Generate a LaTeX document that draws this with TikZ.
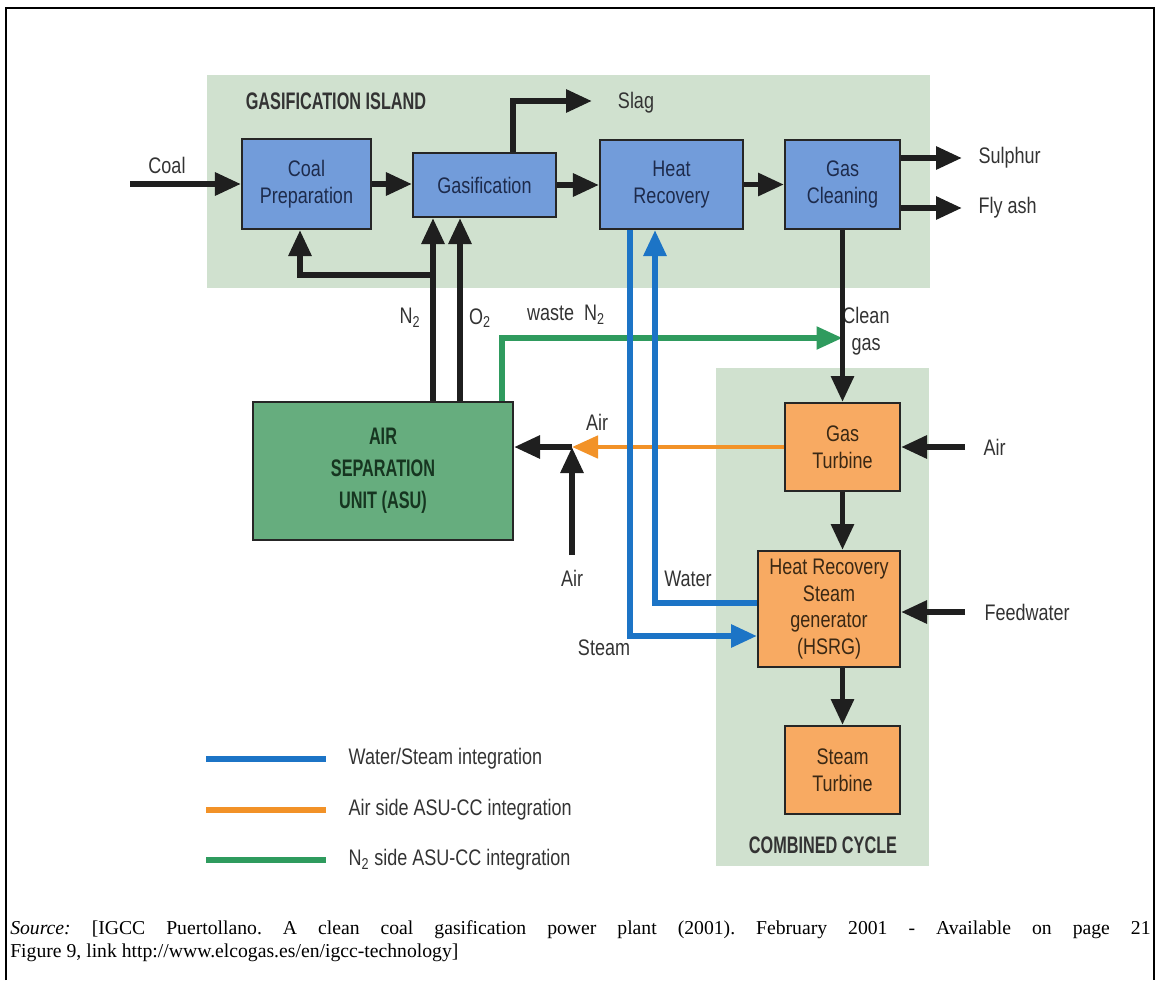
\documentclass[tikz,border=0pt]{standalone}
\usepackage{fontspec}
\setmainfont{Liberation Serif}
\newfontfamily\dfont[FakeStretch=0.8]{Liberation Sans}
\newfontfamily\tfont[FakeStretch=0.68]{Liberation Sans}
\usetikzlibrary{arrows.meta,positioning}
\definecolor{islandbg}{HTML}{D0E1CF}
\definecolor{boxblue}{HTML}{729CDA}
\definecolor{asugreen}{HTML}{66AD7E}
\definecolor{boxorange}{HTML}{F8AA62}
\definecolor{lineblue}{HTML}{1C74C6}
\definecolor{lineorange}{HTML}{F29228}
\definecolor{linegreen}{HTML}{2F9B5E}
\definecolor{txtgray}{HTML}{333333}
\definecolor{txtnavy}{HTML}{1D2B4C}
\definecolor{txtgreen}{HTML}{163520}
\definecolor{txtbrown}{HTML}{3A2814}
\tikzset{
  ar/.style={-{Triangle[length=6.5mm,width=5.5mm]},line width=4.2pt,black!88},
  blu/.style={ar,lineblue},
  orn/.style={ar,line width=3.4pt,lineorange},
  grn/.style={ar,line width=3.8pt,linegreen},
  box/.style={draw=black!85,line width=1.4pt,align=center,inner sep=2pt,font=\dfont\fontsize{16}{19}\selectfont},
  bluebox/.style={box,fill=boxblue,text=txtnavy},
  orbox/.style={box,fill=boxorange,text=txtbrown},
  lbl/.style={font=\dfont\fontsize{16}{19}\selectfont,text=txtgray,inner sep=1pt,align=center},
  ttl/.style={font=\tfont\bfseries\fontsize{17}{20}\selectfont,text=black!80}
}
\begin{document}
\begin{tikzpicture}[x=0.025cm,y=-0.025cm]
\useasboundingbox (0,0) rectangle (1157,980);
\draw[line width=1.4pt] (6,980) -- (6,8) -- (1154,8) -- (1154,980);
\fill[islandbg] (207,75) rectangle (930,288);
\fill[islandbg] (716,368) rectangle (929,866);
\node[ttl] (gisl) at (336,101) {GASIFICATION ISLAND};
\node[ttl] (ccyc) at (823,845) {COMBINED CYCLE};

\node[bluebox,minimum width=3.225cm,minimum height=2.25cm] (prep) at (306.5,184) {Coal\\Preparation};
\node[bluebox,minimum width=3.575cm,minimum height=1.6cm] (gasif) at (484.5,185) {Gasification};
\node[bluebox,minimum width=3.575cm,minimum height=2.225cm] (heatrec) at (671.5,184.5) {Heat\\Recovery};
\node[bluebox,minimum width=2.875cm,minimum height=2.225cm] (gascl) at (842.5,184.5) {Gas\\Cleaning};
\node[box,fill=asugreen,text=txtgreen,font=\tfont\bfseries\fontsize{17}{22.7}\selectfont,minimum width=6.5cm,minimum height=3.45cm] (asu) at (383,471) {AIR\\SEPARATION\\UNIT (ASU)};
\node[orbox,minimum width=2.875cm,minimum height=2.2cm] (gt) at (842.5,447) {Gas\\Turbine};
\node[orbox,minimum width=3.55cm,minimum height=2.9cm] (hrsg) at (829,609) {Heat Recovery\\Steam\\generator\\(HSRG)};
\node[orbox,minimum width=2.875cm,minimum height=2.2cm] (st) at (842.5,770) {Steam\\Turbine};

\node[lbl] (coal) at (167,165) {Coal};
\node[lbl] (slag) at (636,103) {Slag};
\node[lbl,anchor=west] (sulphur) at (977,158) {Sulphur};
\node[lbl,anchor=west] (flyash) at (977,208) {Fly ash};
\node[lbl] (n2) at (410,318) {N\textsubscript{2}};
\node[lbl] (o2) at (480,318) {O\textsubscript{2}};
\node[lbl] (wasten2) at (566,315) {waste\ \ N\textsubscript{2}};
\node[lbl] (cleangas) at (866,331) {Clean\\gas};
\node[lbl] (airtop) at (597,422) {Air};
\node[lbl] (airbot) at (572,578) {Air};
\node[lbl,anchor=west] (airgt) at (982,447) {Air};
\node[lbl,anchor=west] (feedw) at (983,612) {Feedwater};
\node[lbl] (water) at (688,579) {Water};
\node[lbl] (steam) at (604,648) {Steam};

\coordinate (coalin) at (130,184);
\coordinate (slagend) at (592,101);
\coordinate (junc) at (572,447);
\coordinate (airin) at (572,555);
\coordinate (gtair) at (965,447);
\coordinate (fwin) at (965,612);
\coordinate (n2split) at (433,275);

\draw[ar] (coalin) -- (prep);
\draw[ar] (prep.east) -- (prep.east -| gasif.west);
\draw[ar] (gasif.east) -- (gasif.east -| heatrec.west);
\draw[ar] (heatrec.east) -- (heatrec.east -| gascl.west);
\draw[ar] (gasif.north -| 513,0) |- (slagend);
\draw[ar] (gascl.east |- sulphur.west) -- ([xshift=-0.375cm]sulphur.west);
\draw[ar] (gascl.east |- flyash.west) -- ([xshift=-0.375cm]flyash.west);
\draw[ar] (asu.north -| n2split) -- (gasif.south -| n2split);
\draw[ar] (n2split) -| (prep.south -| 300,0);
\draw[ar] (asu.north -| 460,0) -- (gasif.south -| 460,0);
\draw[grn] (asu.north -| 502,0) |- (gascl.south |- 0,338);
\draw[ar] (gascl.south) -- (gt.north);
\draw[orn] (gt.west |- junc) -- (junc);
\draw[ar] (junc) -- (asu.east |- junc);
\draw[ar] (airin) -- (junc);
\draw[ar] (gtair) -- (gt.east |- gtair);
\draw[ar] (gt.south) -- (gt.south |- hrsg.north);
\draw[ar] (st.north |- hrsg.south) -- (st.north);
\draw[ar] (fwin) -- (hrsg.east |- fwin);
\draw[blu] (heatrec.south -| 630,0) |- (hrsg.west |- 0,636);
\draw[blu] (hrsg.west |- 0,603) -| (heatrec.south -| 655,0);

\node[lbl,anchor=west] (lgws) at (347,759) {Water/Steam integration};
\node[lbl,anchor=west] (lgair) at (347,810) {Air side ASU-CC integration};
\node[lbl,anchor=west] (lgn2) at (347,860) {N\textsubscript{2} side ASU-CC integration};
\draw[lineblue,line width=3.8pt] ([xshift=-0.525cm]lgws.west) -- ++(-3cm,0);
\draw[lineorange,line width=3.8pt] ([xshift=-0.525cm]lgair.west) -- ++(-3cm,0);
\draw[linegreen,line width=3.8pt] ([xshift=-0.525cm]lgn2.west) -- ++(-3cm,0);

\node[anchor=north west,inner sep=0pt,text width=28.5cm,align=justify,font=\frenchspacing\fontsize{14}{16.3}\selectfont] (src) at (10,920) {\textit{Source:} [IGCC Puertollano. A clean coal gasification power plant (2001). February 2001 - Available on page 21\linebreak Figure 9, link http://www.elcogas.es/en/igcc-technology]};
\end{tikzpicture}
\end{document}
